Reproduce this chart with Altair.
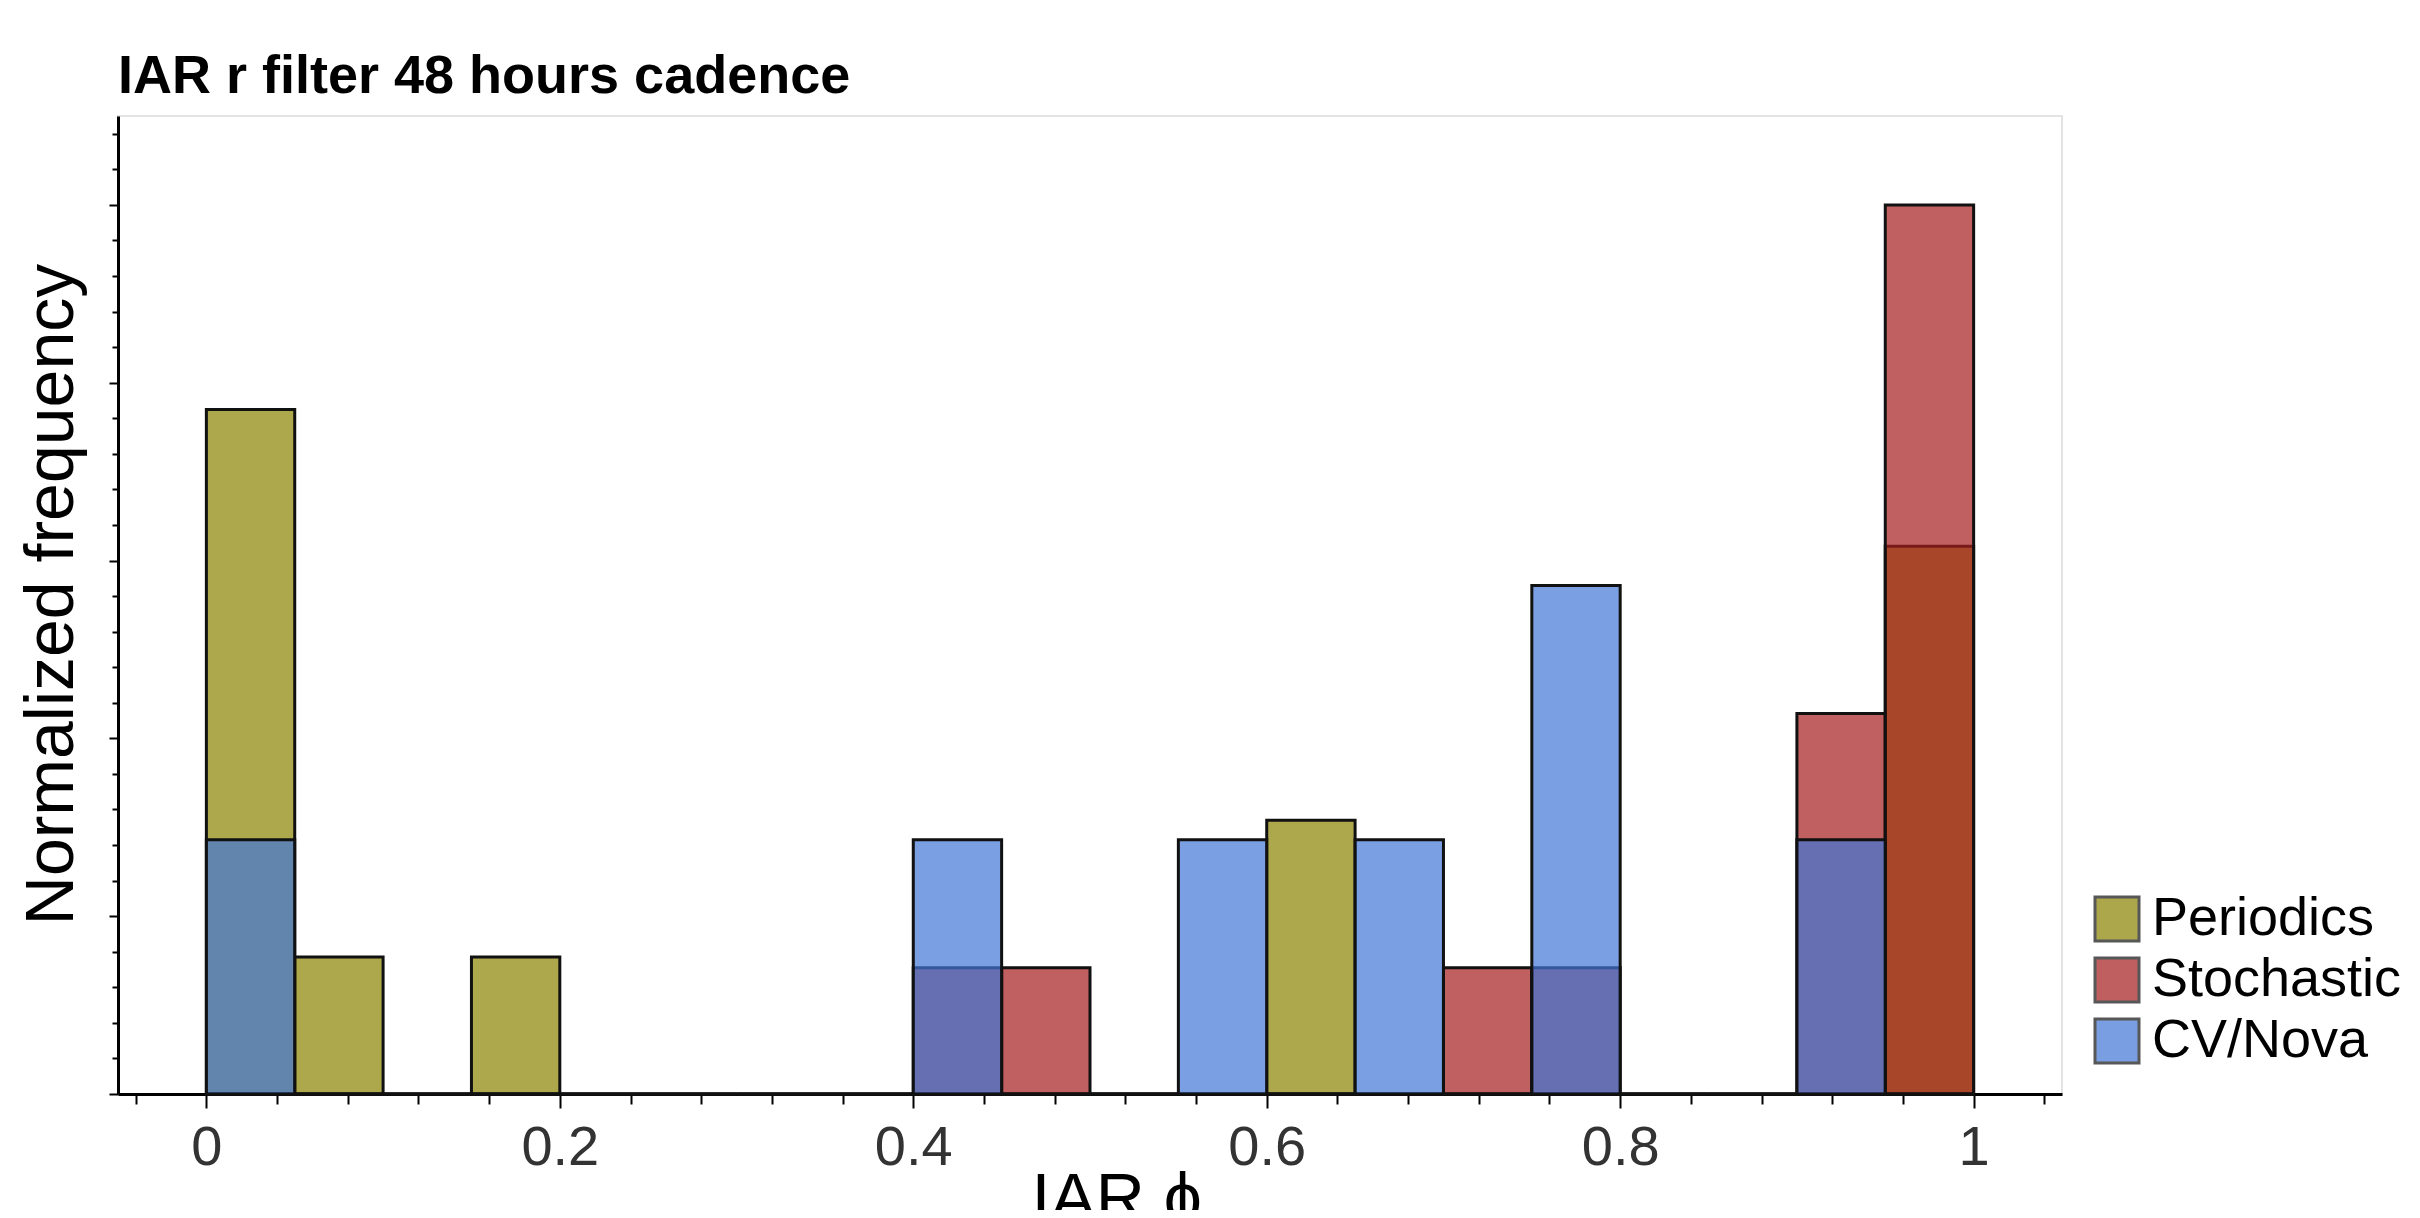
import altair as alt
import pandas as pd

# ---- data (bin width 0.05, normalized frequency) ----
bin_lo = [0.00, 0.05, 0.10, 0.15, 0.20, 0.25, 0.30, 0.35, 0.40, 0.45,
          0.50, 0.55, 0.60, 0.65, 0.70, 0.75, 0.80, 0.85, 0.90, 0.95]
bin_hi = [0.05, 0.10, 0.15, 0.20, 0.25, 0.30, 0.35, 0.40, 0.45, 0.50,
          0.55, 0.60, 0.65, 0.70, 0.75, 0.80, 0.85, 0.90, 0.95, 1.00]

periodics = [0.385, 0.077, 0.0, 0.077, 0.0, 0.0, 0.0, 0.0, 0.0, 0.0,
             0.0, 0.0, 0.154, 0.0, 0.0, 0.0, 0.0, 0.0, 0.0, 0.308]
stochastic = [0.0, 0.0, 0.0, 0.0, 0.0, 0.0, 0.0, 0.0, 0.071, 0.071,
              0.0, 0.0, 0.0, 0.0, 0.071, 0.071, 0.0, 0.0, 0.214, 0.5]
cv_nova = [0.143, 0.0, 0.0, 0.0, 0.0, 0.0, 0.0, 0.0, 0.143, 0.0,
           0.0, 0.143, 0.0, 0.143, 0.0, 0.286, 0.0, 0.0, 0.143, 0.0]

series_names = ["Periodics", "Stochastic", "CV/Nova"]
series_colors = ["#8A8300", "#A51C1C", "#4276D7"]

x_tick_values = [-0.04, 0.0, 0.04, 0.08, 0.12, 0.16, 0.2, 0.24, 0.28, 0.32, 0.36,
                 0.4, 0.44, 0.48, 0.52, 0.56, 0.6, 0.64, 0.68, 0.72, 0.76, 0.8,
                 0.84, 0.88, 0.92, 0.96, 1.0, 1.04]
y_tick_values = [0.0, 0.02, 0.04, 0.06, 0.08, 0.1, 0.12, 0.14, 0.16, 0.18, 0.2,
                 0.22, 0.24, 0.26, 0.28, 0.3, 0.32, 0.34, 0.36, 0.38, 0.4,
                 0.42, 0.44, 0.46, 0.48, 0.5, 0.52, 0.54]

rows = []
for k, (name, vals) in enumerate(zip(series_names, [periodics, stochastic, cv_nova])):
    for lo, hi, v in zip(bin_lo, bin_hi, vals):
        rows.append({"series": name, "lo": lo, "hi": hi, "value": v, "layer": k})
df = pd.DataFrame(rows)

FONT = "Liberation Sans"
x_major = "abs(round(datum.value*5) - datum.value*5) < 1e-6"
y_major = "abs(round(datum.value*10) - datum.value*10) < 1e-6"

chart = alt.Chart(df).mark_bar(
    fillOpacity=0.7, stroke="#111111", strokeWidth=3
).encode(
    x=alt.X(
        "lo:Q",
        scale=alt.Scale(domain=[-0.05, 1.05], nice=False, zero=False),
        axis=alt.Axis(
            values=x_tick_values,
            title="IAR ϕ",
            titleFont=FONT, titleFontSize=68, titleFontWeight="normal",
            titleColor="black", titleAlign="left", titleBaseline="top",
            titleX=913, titleY=72,
            labelExpr=f"({x_major}) && datum.value >= 0 && datum.value <= 1 ? format(datum.value, '~g') : ''",
            labelFont=FONT, labelFontSize=56, labelColor="#333333",
            labelOverlap=False, labelFlush=False, labelPadding=12,
            tickSize={"condition": {"test": x_major, "value": 14}, "value": 10},
            tickColor="black", tickWidth=2,
            domainColor="black", domainWidth=3, grid=False,
        ),
    ),
    x2="hi:Q",
    y=alt.Y(
        "value:Q",
        stack=None,
        scale=alt.Scale(domain=[0, 0.55], nice=False),
        axis=alt.Axis(
            values=y_tick_values,
            labels=False,
            title="Normalized frequency",
            titleFont=FONT, titleFontSize=68, titleFontWeight="normal",
            titleColor="black", titleAngle=-90, titleAlign="center",
            titleBaseline="alphabetic", titleX=-46, titleY=478,
            tickSize={"condition": {"test": y_major, "value": 9}, "value": 6},
            tickColor="black", tickWidth=2,
            domainColor="black", domainWidth=3, grid=False,
        ),
    ),
    y2=alt.datum(0),
    color=alt.Color(
        "series:N",
        scale=alt.Scale(domain=series_names, range=series_colors),
        legend=alt.Legend(
            title=None, orient="none", legendX=1972, legendY=776,
            symbolType="square", symbolSize=1936, symbolStrokeColor="#111111",
            symbolStrokeWidth=3, symbolOpacity=0.7,
            labelFont=FONT, labelFontSize=54, labelColor="black",
            labelOffset=8, rowPadding=5, padding=0, labelLimit=400,
        ),
    ),
    order=alt.Order("layer:Q"),
).properties(
    width=1944,
    height=978,
    title=alt.TitleParams(
        "IAR r filter 48 hours cadence", anchor="start", frame="group",
        font=FONT, fontSize=54, fontWeight="bold", color="black", offset=12,
    ),
    autosize=alt.AutoSizeParams(type="none"),
    padding={"left": 110, "top": 108, "right": 350, "bottom": 116},
).configure_view(
    stroke="#e3e3e3", strokeWidth=2
)

chart.save("out.html", embed_options={"renderer": "svg", "actions": False})
